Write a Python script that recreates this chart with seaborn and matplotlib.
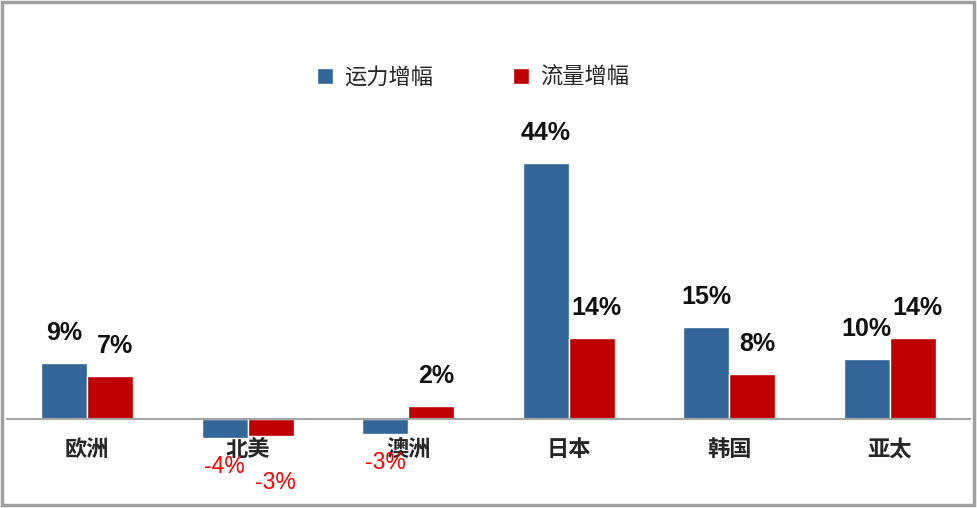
import seaborn as sns
import matplotlib.pyplot as plt
import pandas as pd
from matplotlib.patches import Rectangle

regions = ['欧洲', '北美', '澳洲', '日本', '韩国', '亚太']
series = ['运力增幅', '流量增幅']
capacity = [9.5, -3.3, -2.6, 44.0, 15.7, 10.2]
traffic = [7.3, -3.0, 2.2, 13.9, 7.7, 13.9]
capacity_labels = ['9%', '-4%', '-3%', '44%', '15%', '10%']
traffic_labels = ['7%', '-3%', '2%', '14%', '8%', '14%']
colors = ['#336699', '#C00000']

df = pd.DataFrame({
    'region': regions * 2,
    'series': [series[0]] * len(regions) + [series[1]] * len(regions),
    'value': capacity + traffic,
})

sns.set_style('white')
plt.rcParams['font.family'] = ['Liberation Sans', 'Noto Sans CJK SC']

fig = plt.figure(figsize=(9.77, 5.08), dpi=100)
ax = fig.add_axes([7 / 977, 0.0848, 963 / 977, 0.6622])
sns.barplot(data=df, x='region', y='value', hue='series', hue_order=series,
            palette=colors, width=0.573, gap=0, saturation=1, ax=ax)
ax.set_xlim(-0.5, len(regions) - 0.5)
ax.set_ylim(-8, 50)
ax.set_xlabel('')
ax.set_ylabel('')
ax.set_yticks([])

for s in ['left', 'top', 'right']:
    ax.spines[s].set_visible(False)
ax.spines['bottom'].set_position(('data', 0))
ax.spines['bottom'].set_color('#a6a6a6')
ax.spines['bottom'].set_linewidth(1.5)

ax.set_xticks(range(len(regions)))
ax.set_xticks([i - 0.5 for i in range(len(regions) + 1)], minor=True)
ax.tick_params(axis='x', which='major', length=0, pad=14)
ax.tick_params(axis='x', which='minor', length=6, width=1.3, color='#a6a6a6', direction='out')
ax.set_xticklabels(regions, fontsize=16, fontweight='bold', family='Noto Sans CJK SC')

# data labels
all_labels = [capacity_labels, traffic_labels]
dx_px = [0, 5]
nudge = {(1, 1): (5, -47)}
for si, cont in enumerate(ax.containers):
    for ri, bar in enumerate(cont):
        h = bar.get_height()
        x = bar.get_x() + bar.get_width() / 2
        txt = all_labels[si][ri]
        if h >= 0:
            dx, dy = dx_px[si], 30
            ax.annotate(txt, (x, h), xytext=(dx * 0.72, dy * 0.72), textcoords='offset points',
                        ha='center', va='center', fontsize=18, fontweight='bold', color='#111111')
        else:
            dx, dy = nudge.get((si, ri), (0, -29))
            ax.annotate(txt, (x, h), xytext=(dx * 0.72, dy * 0.72), textcoords='offset points',
                        ha='center', va='center', fontsize=16.5, color='#FF0000')

handles, labels = ax.get_legend_handles_labels()
ax.get_legend().remove()
fig.legend(handles, labels, loc='center', bbox_to_anchor=(473 / 977, 1 - 77 / 508), ncol=2,
           frameon=False, handlelength=0.72, handleheight=0.72, handletextpad=0.5,
           columnspacing=3.6, prop={'family': 'Noto Sans CJK SC', 'size': 16})

fig.patches.append(Rectangle((2 / 977, 3 / 508), 972 / 977, 503 / 508, transform=fig.transFigure,
                             fill=False, edgecolor='#a0a0a0', linewidth=2.5))

fig.savefig('out.png', dpi=100)
